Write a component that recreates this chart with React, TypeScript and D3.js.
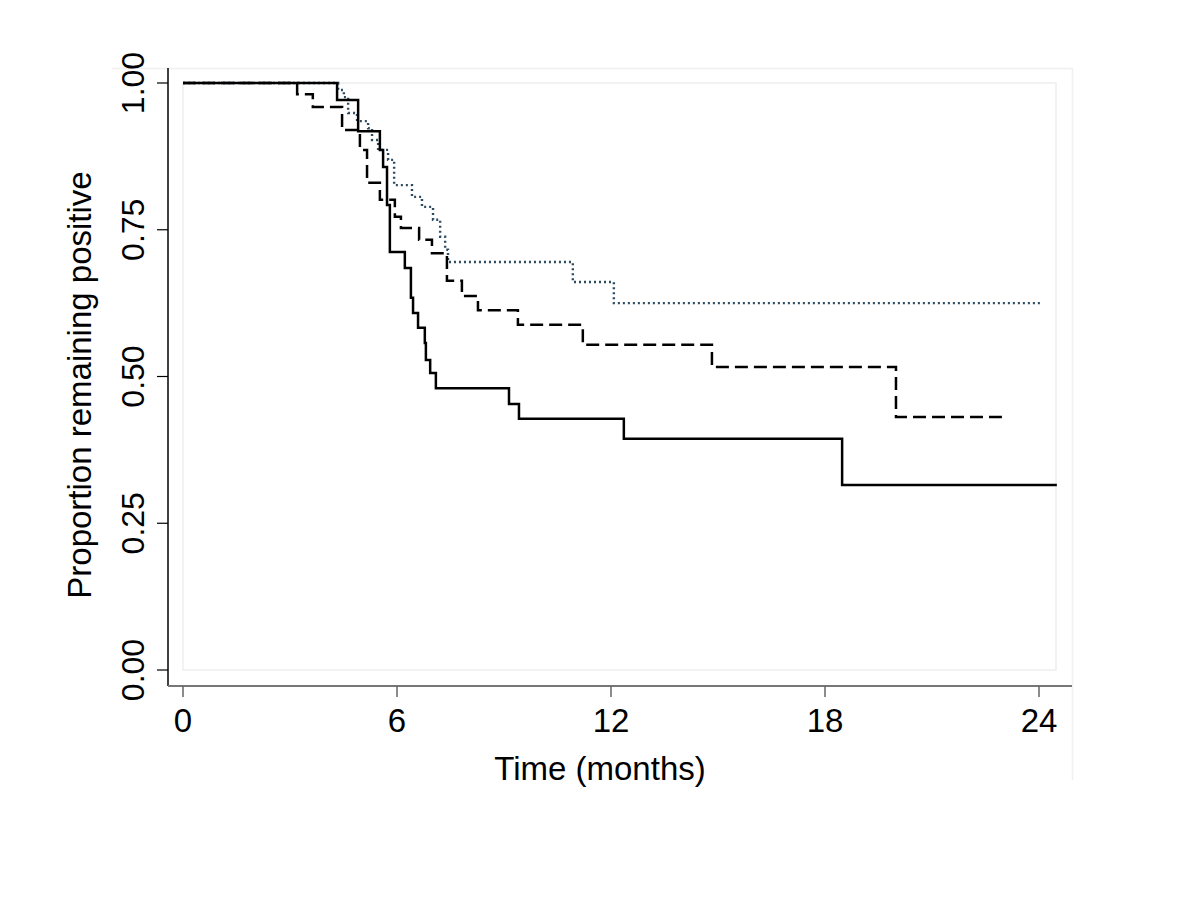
import React from "react";
import * as d3 from "d3";

// Kaplan-Meier step data (time in months, proportion remaining positive)
const solidTimes = [0, 4.32, 4.91, 5.52, 5.61, 5.72, 5.8, 6.22, 6.39, 6.45, 6.59, 6.78, 6.81, 6.93, 7.09, 9.14, 9.42, 12.36, 18.48, 24.5];
const solidValues = [1, 0.971, 0.918, 0.886, 0.857, 0.792, 0.712, 0.685, 0.634, 0.608, 0.583, 0.557, 0.528, 0.506, 0.48, 0.453, 0.428, 0.394, 0.315, 0.315];

const dashedTimes = [0, 3.2, 3.64, 4.46, 4.96, 5.16, 5.52, 5.94, 6.11, 6.62, 6.98, 7.4, 7.82, 8.27, 9.39, 11.21, 14.83, 19.99, 22.96];
const dashedValues = [1, 0.981, 0.959, 0.92, 0.886, 0.83, 0.801, 0.772, 0.753, 0.733, 0.71, 0.663, 0.637, 0.613, 0.588, 0.554, 0.516, 0.431, 0.431];

const dottedTimes = [0, 4.35, 4.51, 4.63, 4.88, 5.19, 5.3, 5.47, 5.75, 5.92, 6.42, 6.7, 7.01, 7.21, 7.35, 7.43, 10.93, 12.08, 24.08];
const dottedValues = [1, 0.988, 0.976, 0.949, 0.935, 0.923, 0.903, 0.886, 0.869, 0.826, 0.806, 0.789, 0.767, 0.738, 0.716, 0.695, 0.661, 0.625, 0.625];

const xTicks = [0, 6, 12, 18, 24];
const yTicks = [0, 0.25, 0.5, 0.75, 1];
const yTickLabels = ["0.00", "0.25", "0.50", "0.75", "1.00"];

const xTitle = "Time (months)";
const yTitle = "Proportion remaining positive";

export default function App() {
  const x = d3.scaleLinear().domain([0, 24]).range([183, 1039]);
  const y = d3.scaleLinear().domain([0, 1]).range([670, 83]);

  const mk = (ts: number[], vs: number[]) =>
    d3
      .line<number>()
      .x((_, i) => x(ts[i]))
      .y((v) => y(v))
      .curve(d3.curveStepAfter)(vs) || "";

  const font = "Liberation Sans, Arial, sans-serif";
  const axisLeft = 168;
  const axisBottom = 686;

  return (
    <svg
      width={1200}
      height={900}
      style={{ position: "absolute", left: 0, top: 0, background: "#fff" }}
      fontFamily={font}
    >
      <rect x={0} y={0} width={1200} height={900} fill="#fff" />
      {/* faint outer / inner region borders */}
      <path d={`M112,68.5 H1072.5 V780`} fill="none" stroke="#f0f0f0" strokeWidth={1.5} />
      <rect x={183} y={83} width={873} height={587} fill="none" stroke="#eeeeee" strokeWidth={1.5} />

      {/* curves */}
      <path d={mk(dottedTimes, dottedValues)} fill="none" stroke="#2c4b60" strokeWidth={2.4} strokeDasharray="2 3" />
      <path d={mk(dashedTimes, dashedValues)} fill="none" stroke="#000" strokeWidth={2.5} strokeDasharray="13 6" />
      <path d={mk(solidTimes, solidValues)} fill="none" stroke="#000" strokeWidth={2.5} />

      {/* y axis */}
      <line x1={axisLeft} x2={axisLeft} y1={68} y2={axisBottom} stroke="#000" strokeWidth={1.5} />
      {yTicks.map((t, i) => (
        <g key={t}>
          <line x1={157} x2={axisLeft} y1={y(t)} y2={y(t)} stroke="#000" strokeWidth={1.2} />
          <text
            transform={`translate(144,${y(t)}) rotate(-90)`}
            textAnchor="middle"
            fontSize={32}
            fill="#000"
          >
            {yTickLabels[i]}
          </text>
        </g>
      ))}

      {/* x axis */}
      <line x1={axisLeft} x2={1072} y1={axisBottom} y2={axisBottom} stroke="#777" strokeWidth={2} />
      {xTicks.map((t) => (
        <g key={t}>
          <line x1={x(t)} x2={x(t)} y1={axisBottom} y2={697} stroke="#666" strokeWidth={1.5} />
          <text x={x(t)} y={732} textAnchor="middle" fontSize={33} fill="#000">
            {t}
          </text>
        </g>
      ))}

      <text x={600} y={780} textAnchor="middle" fontSize={33} fill="#000">
        {xTitle}
      </text>
      <text transform={`translate(91,385) rotate(-90)`} textAnchor="middle" fontSize={33} fill="#000">
        {yTitle}
      </text>
    </svg>
  );
}
